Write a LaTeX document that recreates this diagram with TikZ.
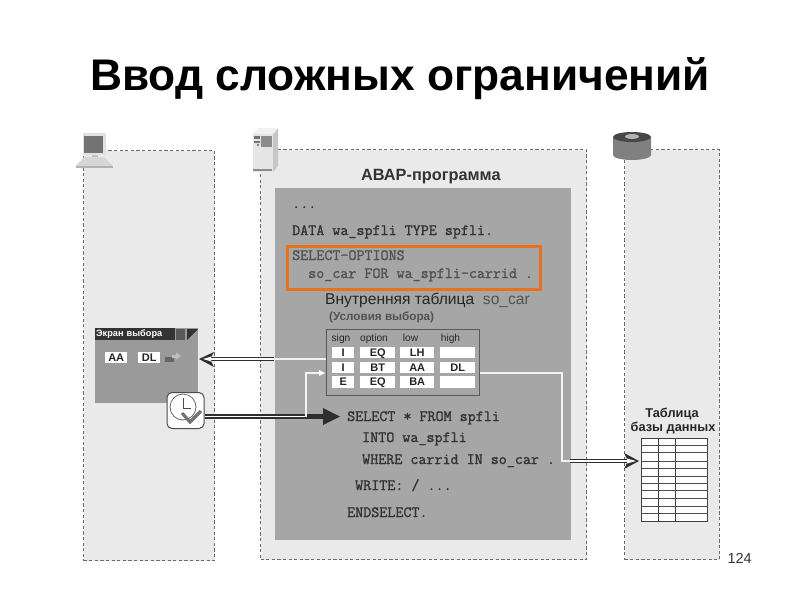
\documentclass[tikz,border=0pt]{standalone}
\usepackage{fontspec}
\setmainfont{Liberation Sans}
\newfontfamily\codefont[FakeBold=1.4]{Latin Modern Mono}
\usetikzlibrary{positioning,calc,arrows.meta}
\definecolor{panelc}{HTML}{EAEAEA}
\definecolor{progc}{HTML}{A6A6A6}
\definecolor{scrc}{HTML}{9A9A9A}
\definecolor{inkc}{HTML}{2E2E2E}
\definecolor{codec}{HTML}{333333}
\definecolor{orangec}{HTML}{E8701E}
\tikzset{
  x=1pt,y=-1pt,
  panel/.style={anchor=north west,inner sep=0,fill=panelc,draw=black!58,dash pattern=on 3.2pt off 2.4pt,line width=1.25pt},
  block/.style={anchor=north west,inner sep=0,draw=none},
  code/.style={anchor=base west,inner sep=0,text=codec,font=\fontsize{15.6}{17}\selectfont\codefont},
  lab/.style={anchor=base west,inner sep=0,text=black!85,font=\fontsize{13.5}{16}\selectfont},
  cell/.style={anchor=north west,inner sep=0,fill=white,text=black!85,font=\fontsize{11}{12}\selectfont\bfseries,minimum height=11.5,text height=8,text depth=0},
  hdr/.style={anchor=base,inner sep=0,text=black!85,font=\fontsize{10.2}{11}\selectfont},
  dbl/.style={draw=inkc,line width=1.7pt,double=white,double distance=1.3pt},
  wire/.style={draw=white!95!black,line width=1.5pt}
}
\begin{document}
\begin{tikzpicture}
\useasboundingbox (0,0) rectangle (800,600);
\fill[white] (0,0) rectangle (800,600);
% title
\node[anchor=base,inner sep=0,text=black,font=\fontsize{44.3}{48}\selectfont\bfseries] (title) at (400,90) {Ввод сложных ограничений};
% panels
\node[panel,minimum width=131,minimum height=410] (pleft) at (83,150) {};
\node[panel,minimum width=326,minimum height=410] (pmid) at (260,149) {};
\node[panel,minimum width=95,minimum height=410] (pright) at (624,149) {};
\node[block,fill=progc,minimum width=296,minimum height=352] (prog) at (275,188) {};
% icons: computer
\fill[black!12] (83,133) rectangle (106,155);
\fill[black!55] (84,136) rectangle (103,153);
\fill[black!25] (92,155) rectangle (98,157);
\fill[black!16] (84,157) -- (104,157) -- (113,166) -- (76,166) -- cycle;
\fill[black!30] (76,166) rectangle (113,168);
% icons: server
\fill[black!10] (253,134) -- (273,134) -- (273,172) -- (253,172) -- cycle;
\fill[black!22] (273,134) -- (278,128) -- (278,166) -- (273,172) -- cycle;
\fill[black!5] (253,134) -- (258,128) -- (278,128) -- (273,134) -- cycle;
\fill[black!55] (253.5,136) rectangle (260,139);
\fill[black!55] (253.5,141) rectangle (260,143);
\fill[black!45] (261,136) rectangle (272,147);
\fill[black!50] (258,145) circle (1.3);
\fill[black!45] (253,169) rectangle (272,171);
% icons: database
\fill[black!50] (613,137) -- (613,155) arc[start angle=180,end angle=0,x radius=19,y radius=5] -- (651,137) -- cycle;
\fill[black!72] (632,137) ellipse[x radius=19,y radius=5];
\fill[black!30] (632,136.5) ellipse[x radius=7,y radius=2.5];
% ABAP
\node[lab,font=\fontsize{16.3}{18}\selectfont\bfseries,text=black!80] (abap) at (361,180) {АВАР-программа};
% code
\node[code] (c1) at (292,208) {...};
\node[code] (c2) at (292,235) {DATA wa\_spfli TYPE spfli.};
\node[block,draw=orangec,line width=3pt,minimum width=253,minimum height=43] (hl) at (286,245) {};
\node[code,text=black!68] (c3) at (292,260) {SELECT-OPTIONS};
\node[code,text=black!68] (c4) at (308,278) {so\_car FOR wa\_spfli-carrid .};
\node[lab,font=\fontsize{15.6}{18}\selectfont] (itab) at (325,304) {Внутренняя таблица\ \ \textcolor{black!68}{so\_car}};
\node[lab,font=\fontsize{11.7}{13}\selectfont\bfseries,text=black!68] (cond) at (329,320) {(Условия выбора)};
% selection table
\node[block,draw=black!65,line width=1.2pt,minimum width=153,minimum height=66] (tbl) at (326,329) {};
\node[hdr] (h1) at (341,341) {sign};
\node[hdr] (h2) at (374,341) {option};
\node[hdr] (h3) at (410.5,341) {low};
\node[hdr] (h4) at (450.5,341) {high};
\node[cell,minimum width=22] (a1) at (332,346.5) {I};
\node[cell,minimum width=35] (a2) at (360,346.5) {EQ};
\node[cell,minimum width=34] (a3) at (400,346.5) {LH};
\node[cell,minimum width=35] (a4) at (440,346.5) {};
\node[cell,minimum width=22] (b1) at (332,361.5) {I};
\node[cell,minimum width=35] (b2) at (360,361.5) {BT};
\node[cell,minimum width=34] (b3) at (400,361.5) {AA};
\node[cell,minimum width=35] (b4) at (440,361.5) {DL};
\node[cell,minimum width=22] (d1) at (332,376) {E};
\node[cell,minimum width=35] (d2) at (360,376) {EQ};
\node[cell,minimum width=34] (d3) at (400,376) {BA};
\node[cell,minimum width=35] (d4) at (440,376) {};
% lower code
\node[code] (s1) at (347,421) {SELECT * FROM spfli};
\node[code] (s2) at (362,442) {INTO wa\_spfli};
\node[code] (s3) at (362,464) {WHERE carrid IN so\_car .};
\node[code] (s4) at (355,490) {WRITE: / ...};
\node[code] (s5) at (347,517) {ENDSELECT.};
% selection screen
\node[block,fill=scrc,minimum width=103,minimum height=75] (scr) at (95,328) {};
\node[block,fill=black!80,text=white,font=\fontsize{9.2}{10}\selectfont\bfseries,minimum width=80,minimum height=12,text width=78,align=left,inner sep=1] (scrt) at (95,328) {Экран выбора};
\fill[black!65] (176,329) rectangle (185,340);
\fill[black!80] (187,329) -- (198,329) -- (187,340) -- cycle;
\node[cell,minimum width=22,minimum height=10.5] (aa) at (105,352) {AA};
\node[cell,minimum width=22,minimum height=10.5] (dl) at (138,352) {DL};
\fill[black!60] (165,357) rectangle (174,362);
\fill[black!25] (172,355) -- (176,355) -- (176,352.5) -- (181,356) -- (176,359.5) -- (176,358) -- (172,358) -- cycle;
% upper connector
\coordinate (u0) at (tbl.west |- 0,359);
\coordinate (u1) at (274,359);
\coordinate (u2) at (209,359);
\coordinate (ut) at (199,359);
\draw[wire] (u0) -- (u1);
\draw[dbl] (u1) -- (u2);
\fill[inkc] (ut) -- (214,352) -- (210,359) -- (214,367) -- cycle;
\fill[white] (203,359) -- (211,356.6) -- (211,361.4) -- cycle;
% clock
\node[block,draw=black!70,fill=white,rounded corners=5,line width=1pt,minimum width=37,minimum height=36] (clk) at (166.5,392) {};
\draw[black!60,line width=.8pt,fill=white] (183,407) circle (13);
\draw[black!70,line width=.9pt] (183,398) -- (183,408) -- (191,408);
\draw[black!55,line width=3.2pt] (182,413) -- (190,422) -- (201,411);
% lower connector
\coordinate (l1) at (306,416.5);
\coordinate (l2) at (306,373);
\coordinate (l3) at (321,373);
\draw[dbl] (clk.east |- l1) -- (l1);
\draw[draw=inkc,line width=5pt] (l1) -- (326,416.5);
\fill[inkc] (340,416.5) -- (323,408) -- (323,425) -- cycle;
\draw[wire] (l1) -- (l2) -- (l3);
\fill[white] (325,373) -- (319,370) -- (319,376) -- cycle;
% to database
\coordinate (r1) at (tbl.east |- 0,373);
\coordinate (r2) at (562,373);
\coordinate (r3) at (562,461);
\coordinate (r4) at (570,461);
\coordinate (r5) at (630,461);
\coordinate (rt) at (639,461);
\draw[wire] (r1) -- (r2) -- (r3) -- (r4);
\draw[dbl] (r4) -- (r5);
\fill[inkc] (rt) -- (624,453) -- (628,461) -- (624,469) -- cycle;
\fill[white] (636,461) -- (627,458.5) -- (627,463.5) -- cycle;
% db table
\node[lab,anchor=base,font=\fontsize{12.8}{14}\selectfont\bfseries] (dbl1) at (672,417) {Таблица};
\node[lab,anchor=base,font=\fontsize{12.8}{14}\selectfont\bfseries] (dbl2) at (673,431.5) {базы данных};
\node[block,fill=white,draw=black!75,line width=.9pt,minimum width=66.5,minimum height=82.5] (dbt) at (640.5,438) {};
\foreach \yy in {445,452.5,461,468,476,483,490,498,506,513.5}
  \draw[black!70,line width=.9pt] (dbt.west |- 0,\yy) -- (dbt.east |- 0,\yy);
\draw[black!75,line width=.9pt] (658,438) -- (658,520.5);
\draw[black!75,line width=.9pt] (675,438) -- (675,520.5);
% page number
\node[anchor=base east,inner sep=0,text=black!80,font=\fontsize{14.5}{16}\selectfont] (pg) at (752,563) {124};
\end{tikzpicture}
\end{document}
